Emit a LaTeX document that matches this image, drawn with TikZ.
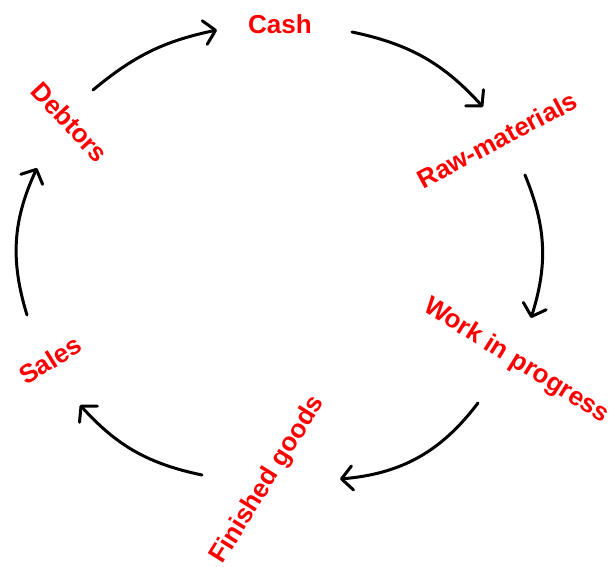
\documentclass[tikz,border=0pt]{standalone}
\usepackage{fontspec}
\setmainfont{Liberation Sans}
\usetikzlibrary{arrows.meta}
\begin{document}
\begin{tikzpicture}[x=1pt,y=-1pt,
  lbl/.style={text=red, font=\bfseries\fontsize{26}{26}\selectfont, inner sep=0pt},
  flow/.style={line width=3pt, line cap=round,
    -{Straight Barb[length=11pt,width=24pt,line cap=round,line join=round]}}]
\useasboundingbox (0,0) rectangle (616,567);

% stages of the cycle
\node[lbl] (cash) at (280,24) {Cash};
\node[lbl, rotate=28] (raw) at (497,140) {Raw-materials};
\node[lbl, rotate=-32] (wip) at (516,361) {Work in progress};
\node[lbl, rotate=58] (fin) at (268,480) {Finished goods};
\node[lbl, rotate=32] (sales) at (50,360) {Sales};
\node[lbl, rotate=-47] (debt) at (70,122) {Debtors};

% arrow end points
\coordinate (a1s) at (93,90);   \coordinate (a1e) at (217,30);
\coordinate (a2s) at (352,32);  \coordinate (a2e) at (483,107);
\coordinate (a3s) at (525,175); \coordinate (a3e) at (531,318);
\coordinate (a4s) at (478,403); \coordinate (a4e) at (340,479);
\coordinate (a5s) at (202,475); \coordinate (a5e) at (80,405);
\coordinate (a6s) at (27,315);  \coordinate (a6e) at (37,168);

% clockwise flow arrows, each bulging outwards
\draw[flow] (a1s) to[bend left=14] (a1e);
\draw[flow] (a2s) to[bend left=18] (a2e);
\draw[flow] (a3s) to[bend left=20] (a3e);
\draw[flow] (a4s) to[bend left=24] (a4e);
\draw[flow] (a5s) to[bend left=18] (a5e);
\draw[flow] (a6s) to[bend left=21] (a6e);
\end{tikzpicture}
\end{document}
